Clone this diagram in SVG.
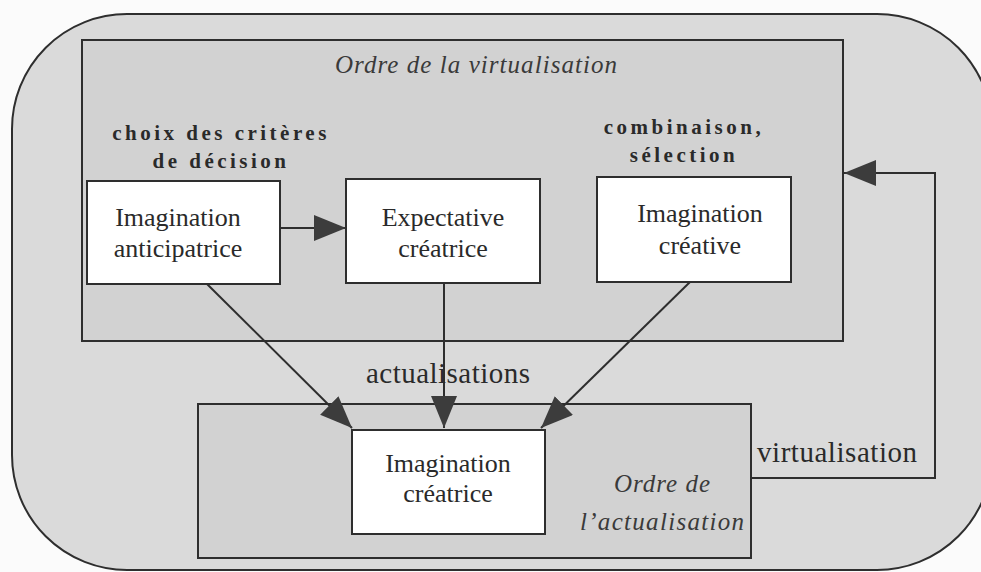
<svg xmlns="http://www.w3.org/2000/svg" width="981" height="572" viewBox="0 0 981 572">
<style>
.frame{fill:#d2d2d2;stroke:#2e2e2e;stroke-width:2}
.box{fill:#ffffff;stroke:#2e2e2e;stroke-width:2}
.lbl{font-family:"Liberation Serif","Times New Roman",serif;font-size:26px;fill:#2a2a2a;text-anchor:middle}
.bold{font-family:"Liberation Serif","Times New Roman",serif;font-weight:bold;font-size:21px;letter-spacing:3.5px;fill:#2a2a2a;text-anchor:middle}
.ital{font-family:"Liberation Serif","Times New Roman",serif;font-style:italic;font-size:25px;fill:#3a3a3a;text-anchor:middle}
.big{font-family:"Liberation Serif","Times New Roman",serif;font-size:29px;fill:#2a2a2a}
.conn{fill:none;stroke:#2e2e2e;stroke-width:2}
</style>
<defs>
<marker id="ah" markerUnits="userSpaceOnUse" markerWidth="34" markerHeight="28" refX="32" refY="13" orient="auto">
<path d="M0,0 L32,13 L0,26 Z" fill="#3c3c3c"/>
</marker>
</defs>
<rect x="0" y="0" width="981" height="572" fill="#fbfbfb"/>
<rect x="12" y="14" width="980" height="556" rx="115" ry="115" fill="#dadada" stroke="#2e2e2e" stroke-width="2"/>
<g id="order-virtualisation">
<rect class="frame" x="82" y="40" width="761" height="301"/>
<text class="ital" x="476" y="73" textLength="282">Ordre de la virtualisation</text>
</g>
<g id="order-actualisation">
<rect class="frame" x="198" y="404" width="553" height="154"/>
<text class="ital" x="662" y="492" textLength="96">Ordre de</text>
<text class="ital" x="662" y="530" textLength="164">l’actualisation</text>
</g>
<g id="label-choix">
<text class="bold" x="221" y="140">choix des critères</text>
<text class="bold" x="221" y="168">de décision</text>
</g>
<g id="label-combinaison">
<text class="bold" x="684" y="134">combinaison,</text>
<text class="bold" x="684" y="162">sélection</text>
</g>
<g id="imagination-anticipatrice">
<rect class="box" x="87" y="181" width="193" height="103"/>
<text class="lbl" x="178" y="226">Imagination</text>
<text class="lbl" x="178" y="257">anticipatrice</text>
</g>
<g id="expectative-creatrice">
<rect class="box" x="346" y="179" width="194" height="104"/>
<text class="lbl" x="443" y="226">Expectative</text>
<text class="lbl" x="443" y="257">créatrice</text>
</g>
<g id="imagination-creative">
<rect class="box" x="597" y="177" width="194" height="105"/>
<text class="lbl" x="700" y="222">Imagination</text>
<text class="lbl" x="700" y="254">créative</text>
</g>
<g id="imagination-creatrice">
<rect class="box" x="352" y="430" width="193" height="104"/>
<text class="lbl" x="448" y="472">Imagination</text>
<text class="lbl" x="448" y="502">créatrice</text>
</g>
<g id="connectors">
<line class="conn" x1="280" y1="228" x2="346" y2="228" marker-end="url(#ah)"/>
<line class="conn" x1="207" y1="284" x2="352" y2="428" marker-end="url(#ah)"/>
<line class="conn" x1="444" y1="283" x2="444" y2="428" marker-end="url(#ah)"/>
<line class="conn" x1="690" y1="282" x2="541" y2="428" marker-end="url(#ah)"/>
<polyline class="conn" points="751,478 935,478 935,173 844,173" marker-end="url(#ah)"/>
</g>
<g id="label-actualisations">
<text class="big" x="366" y="383" textLength="164">actualisations</text>
</g>
<g id="label-virtualisation">
<text class="big" x="757" y="462" textLength="160">virtualisation</text>
</g>
</svg>
